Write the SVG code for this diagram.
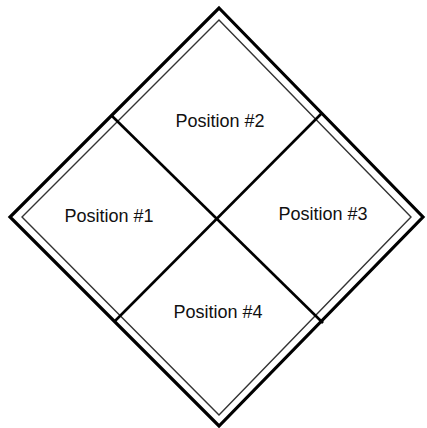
<svg xmlns="http://www.w3.org/2000/svg" width="427" height="428" viewBox="0 0 427 428">
<style>
.outer{fill:none;stroke:#000;stroke-width:3.2;stroke-linejoin:miter}
.inner{fill:none;stroke:#333;stroke-width:1.4}
.div{stroke:#000;stroke-width:2.6;fill:none}
text{font-family:"Liberation Sans",Arial,sans-serif;font-size:18px;fill:#111;text-anchor:middle;dominant-baseline:central}
</style>
<rect width="427" height="428" fill="#fff"/>
<g id="border">
<polygon class="outer" points="219,8 423,217 219,426 10,217"/>
<polygon class="inner" points="219,20 411,217 219,415 22,217"/>
</g>
<g id="connectors">
<line class="div" x1="112" y1="116" x2="323" y2="323"/>
<line class="div" x1="322" y1="113" x2="114" y2="322"/>
</g>
<g id="pos1"><text x="109" y="216">Position #1</text></g>
<g id="pos2"><text x="220" y="121">Position #2</text></g>
<g id="pos3"><text x="323" y="214">Position #3</text></g>
<g id="pos4"><text x="218" y="312">Position #4</text></g>
</svg>
